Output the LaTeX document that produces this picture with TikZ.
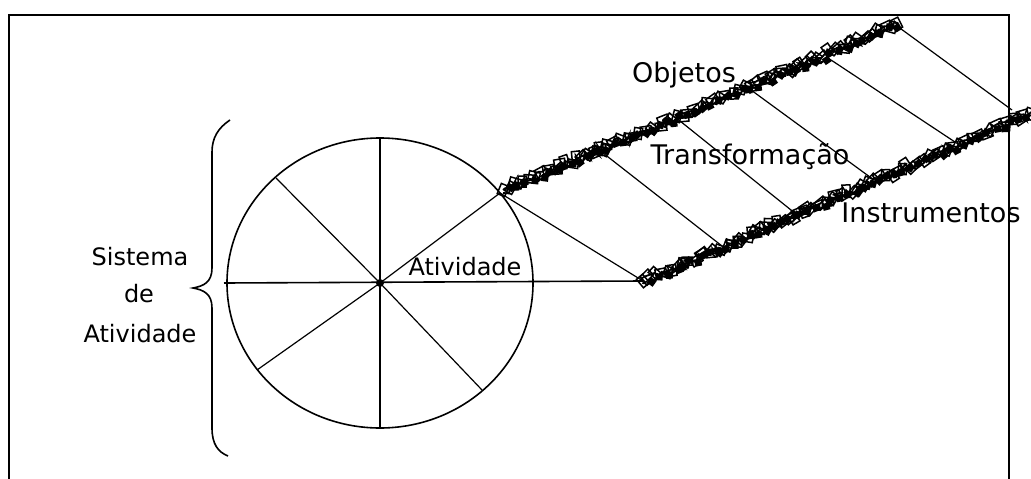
\documentclass[tikz,border=0pt]{standalone}
\usepackage{fontspec}
\setmainfont{DejaVu Sans}
\usetikzlibrary{shapes.geometric,decorations.pathmorphing,decorations.markings,calc}
\begin{document}
\begin{tikzpicture}[x=1pt,y=-1pt,
  thinline/.style={line width=1.2pt},
  axisline/.style={line width=1.6pt},
  frameline/.style={line width=2pt},
  chainband/.style={decorate,decoration={random steps,segment length=3pt,amplitude=3.5pt},line width=1.8pt},
  chainlinks/.style={postaction={decorate,decoration={markings,
      mark=between positions 0 and 1 step 9pt with {\draw[line width=1.5pt,rotate=rand*35] (-5.5,-4) rectangle (5.5,4);}}}},
  chainblobs/.style={postaction={decorate,decoration={markings,
      mark=between positions 0.02 and 1 step 12pt with {\fill[rotate=rand*40] (-3.5,-3.5) rectangle (3.5,3.5);}}}},
  lbl/.style={inner sep=0pt,font=\fontsize{27}{30}\selectfont},
  slbl/.style={inner sep=0pt,font=\fontsize{24}{28}\selectfont}]
\pgfmathsetseed{7}
\useasboundingbox (0,0) rectangle (1031,479);
% frame (open at bottom)
\draw[frameline] (9,479) -- (9,15) -- (1009,15) -- (1009,479);

% circle
\node[ellipse,draw,line width=1.6pt,minimum width=306pt,minimum height=290pt,inner sep=0pt] (circ) at (380,283) {};
\coordinate (cc) at (380,283);
\coordinate (west) at (224,283);
\coordinate (north) at (380,138);
\coordinate (south) at (380,429);
\coordinate (ul) at (276,178);
\coordinate (ll) at (257,370);
\coordinate (lr) at (482,390);
\coordinate (ur) at (500,193);

% ribbon coordinates
\coordinate (U0) at (503,190);
\coordinate (U1) at (897,24);
\coordinate (L0) at (643,281);
\coordinate (L1) at (1031,112);
\coordinate (u2) at (603,153);
\coordinate (u3) at (680,121);
\coordinate (u4) at (751,90);
\coordinate (u5) at (828,58);
\coordinate (u6) at (897,26);
\coordinate (l2) at (722,246);
\coordinate (l3) at (796,214);
\coordinate (l4) at (874,180);
\coordinate (l5) at (958,144);
\coordinate (l6) at (1012,110);

% axes of the circle
\draw[axisline] (west) -- (L0);
\draw[axisline] (north) -- (south);
\fill (cc) circle (4pt);
\draw[thinline] (cc) -- (ul);
\draw[thinline] (cc) -- (ll);
\draw[thinline] (cc) -- (lr);
\draw[thinline] (cc) -- (ur);

% ties
\draw[thinline] (ur) -- (L0);
\draw[thinline] (u2) -- (l2);
\draw[thinline] (u3) -- (l3);
\draw[thinline] (u4) -- (l4);
\draw[thinline] (u5) -- (l5);
\draw[thinline] (u6) -- (l6);

% chain bands
\draw[chainband,chainlinks] (U0) -- (U1);
\draw[chainband,chainblobs] ($(U0)+(0,3)$) -- ($(U1)+(0,3)$);
\draw[chainband,chainlinks] (L0) -- (L1);
\draw[chainband,chainblobs] ($(L0)+(0,3)$) -- ($(L1)+(0,3)$);

% brace
\coordinate (btop) at (230,120);
\coordinate (bbot) at (228,456);
\coordinate (btip) at (193,288);
\draw[line width=1.6pt] (btop) .. controls (218,128) and (212,138) .. (212,152)
  -- (212,268) .. controls (212,282) and (204,286) .. (btip)
  .. controls (204,290) and (212,294) .. (212,308)
  -- (212,428) .. controls (212,444) and (218,452) .. (bbot);

% labels
\node[lbl] (objetos) at (684,75) {Objetos};
\node[lbl] (transf) at (750,157) {Transformação};
\node[lbl] (instr) at (931,213) {Instrumentos};
\node[slbl] (ativ) at (465,267) {Atividade};
\node[slbl] (sis) at (140,257) {Sistema};
\node[slbl] (de) at (139,294) {de};
\node[slbl] (ativ2) at (140,334) {Atividade};
\end{tikzpicture}
\end{document}
